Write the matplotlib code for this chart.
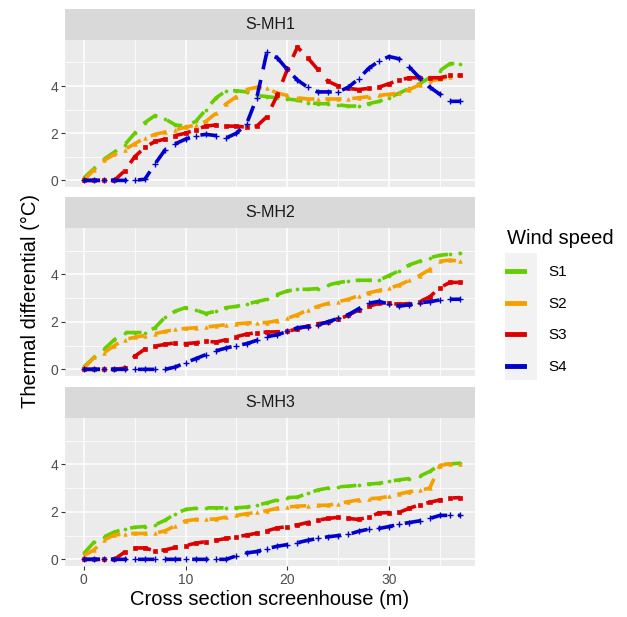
import matplotlib
matplotlib.use("Agg")
import matplotlib.pyplot as plt
from matplotlib.lines import Line2D
from matplotlib.patches import Rectangle
import numpy as np

plt.rcParams['font.family'] = ['Liberation Sans', 'DejaVu Sans']

# cross section position (m)
x = list(range(0, 38))

panels = ["S-MH1", "S-MH2", "S-MH3"]
series = ["S1", "S2", "S3", "S4"]

# S-MH1
mh1_s1 = [0.1, 0.5, 0.9, 1.2, 1.5, 2.0, 2.45, 2.75, 2.6, 2.35, 2.3, 2.5, 3.0, 3.5, 3.8, 3.8, 3.75, 3.6, 3.55,
          3.5, 3.45, 3.4, 3.3, 3.25, 3.25, 3.2, 3.15, 3.15, 3.25, 3.35, 3.5, 3.7, 3.9, 4.1, 4.35, 4.65, 4.95, 4.95]
mh1_s2 = [0.0, 0.45, 0.85, 1.1, 1.3, 1.55, 1.8, 1.95, 2.05, 2.15, 2.25, 2.35, 2.5, 2.85, 3.25, 3.55, 3.85, 3.95,
          3.9, 3.7, 3.6, 3.5, 3.45, 3.45, 3.45, 3.45, 3.45, 3.5, 3.55, 3.6, 3.65, 3.7, 3.85, 4.05, 4.2, 4.3, 4.4, 4.45]
mh1_s3 = [0.0, 0.0, 0.0, 0.0, 0.4, 1.0, 1.4, 1.65, 1.75, 1.9, 2.0, 2.15, 2.3, 2.35, 2.3, 2.3, 2.25, 2.3, 2.7,
          3.6, 4.7, 5.65, 5.2, 4.7, 4.2, 4.0, 3.9, 3.85, 3.9, 3.95, 4.1, 4.25, 4.35, 4.35, 4.35, 4.35, 4.45, 4.45]
mh1_s4 = [0.0, 0.0, 0.0, 0.0, 0.0, 0.0, 0.05, 0.7, 1.3, 1.55, 1.75, 1.9, 1.95, 1.9, 1.8, 2.0, 2.4, 3.5, 5.45,
          5.2, 4.7, 4.25, 3.95, 3.75, 3.75, 3.75, 3.95, 4.3, 4.75, 5.05, 5.25, 5.15, 4.8, 4.35, 3.95, 3.65, 3.35, 3.35]

# S-MH2
mh2_s1 = [0.1, 0.5, 0.85, 1.25, 1.55, 1.55, 1.55, 1.75, 2.2, 2.45, 2.6, 2.5, 2.35, 2.45, 2.6, 2.65, 2.75, 2.85,
          2.95, 3.15, 3.3, 3.37, 3.37, 3.4, 3.55, 3.65, 3.72, 3.75, 3.75, 3.75, 3.95, 4.15, 4.4, 4.55, 4.7, 4.8, 4.85, 4.88]
mh2_s2 = [0.05, 0.5, 0.7, 1.0, 1.25, 1.35, 1.42, 1.5, 1.6, 1.68, 1.72, 1.75, 1.78, 1.83, 1.88, 1.92, 1.95, 1.97,
          1.97, 2.05, 2.15, 2.3, 2.5, 2.65, 2.78, 2.85, 2.95, 3.1, 3.22, 3.32, 3.42, 3.55, 3.75, 3.95, 4.2, 4.55, 4.6, 4.55]
mh2_s3 = [0.0, 0.0, 0.0, 0.0, 0.05, 0.55, 0.85, 0.98, 1.05, 1.12, 1.08, 1.12, 1.18, 1.15, 1.25, 1.38, 1.48, 1.55,
          1.57, 1.58, 1.6, 1.7, 1.83, 1.92, 1.98, 2.1, 2.28, 2.5, 2.65, 2.78, 2.78, 2.74, 2.77, 2.85, 3.05, 3.44, 3.66, 3.66]
mh2_s4 = [0.0, 0.0, 0.0, 0.0, 0.0, 0.0, 0.0, 0.0, 0.0, 0.1, 0.28, 0.45, 0.62, 0.78, 0.9, 1.0, 1.08, 1.22, 1.38,
          1.45, 1.6, 1.75, 1.8, 1.87, 2.0, 2.15, 2.3, 2.55, 2.78, 2.86, 2.75, 2.66, 2.72, 2.8, 2.85, 2.92, 2.95, 2.95]

# S-MH3
mh3_s1 = [0.25, 0.72, 0.95, 1.15, 1.28, 1.35, 1.38, 1.45, 1.65, 1.92, 2.1, 2.15, 2.17, 2.17, 2.17, 2.17, 2.2, 2.28,
          2.38, 2.5, 2.6, 2.62, 2.78, 2.92, 3.0, 3.05, 3.08, 3.12, 3.17, 3.2, 3.28, 3.35, 3.4, 3.5, 3.7, 3.98, 4.02, 4.05]
mh3_s2 = [0.15, 0.4, 0.82, 1.02, 1.07, 1.09, 1.09, 1.1, 1.2, 1.42, 1.62, 1.68, 1.68, 1.7, 1.78, 1.85, 1.92, 1.98,
          2.05, 2.15, 2.2, 2.24, 2.26, 2.27, 2.28, 2.35, 2.43, 2.5, 2.55, 2.58, 2.65, 2.75, 2.85, 2.9, 3.0, 3.95, 4.02, 4.0]
mh3_s3 = [0.0, 0.0, 0.0, 0.0, 0.3, 0.48, 0.48, 0.35, 0.4, 0.5, 0.58, 0.68, 0.75, 0.8, 0.88, 0.95, 1.02, 1.1, 1.2,
          1.32, 1.38, 1.45, 1.55, 1.65, 1.72, 1.77, 1.72, 1.68, 1.78, 1.95, 1.97, 1.98, 2.15, 2.3, 2.4, 2.5, 2.58, 2.6]
mh3_s4 = [0.0, 0.0, 0.0, 0.0, 0.0, 0.0, 0.0, 0.0, 0.0, 0.0, 0.0, 0.0, 0.0, 0.0, 0.0, 0.15, 0.27, 0.33, 0.45, 0.55,
          0.62, 0.7, 0.8, 0.88, 0.95, 1.0, 1.05, 1.18, 1.27, 1.3, 1.38, 1.48, 1.55, 1.62, 1.72, 1.85, 1.85, 1.85]

data = [[mh1_s1, mh1_s2, mh1_s3, mh1_s4],
        [mh2_s1, mh2_s2, mh2_s3, mh2_s4],
        [mh3_s1, mh3_s2, mh3_s3, mh3_s4]]

colors = ['#66CD00', '#F5A000', '#DD0000', '#0000CD']
markers = ['o', '^', 's', '+']
msizes = [2.2, 2.6, 2.2, 4.5]

fig = plt.figure(figsize=(6.27, 6.17), dpi=100)
W, H = 627, 617
left, right = 65, 475
panel_px = [(40, 187), (228, 376), (418, 566)]
strip_h = 31

axes = []
for i, (top, bot) in enumerate(panel_px):
    ax = fig.add_axes([left / W, 1 - bot / H, (right - left) / W, (bot - top) / H])
    ax.set_facecolor('#EBEBEB')
    for s in ax.spines.values():
        s.set_visible(False)
    ax.set_xlim(-1.85, 38.45)
    ax.set_ylim(-0.28, 5.95)
    ax.set_xticks([0, 10, 20, 30])
    ax.set_xticks([5, 15, 25, 35], minor=True)
    ax.set_yticks([0, 2, 4])
    ax.set_yticks([1, 3, 5], minor=True)
    ax.grid(True, which='major', color='white', linewidth=1.1)
    ax.grid(True, which='minor', color='white', linewidth=0.55)
    ax.set_axisbelow(True)
    ax.tick_params(which='major', length=3, width=0.8, color='#333333', labelcolor='#4D4D4D',
                   labelsize=10, pad=2)
    ax.tick_params(which='minor', length=0)
    if i < 2:
        ax.tick_params(axis='x', which='major', length=0, labelbottom=False)
    for j in range(4):
        ax.plot(x, data[i][j], color=colors[j], linewidth=2.6, marker=markers[j],
                markersize=msizes[j], markeredgewidth=1.0 if j == 3 else 0.5,
                linestyle=(0, (4.5, 3.0)), zorder=3 + j)
    # facet strip
    sax = fig.add_axes([left / W, 1 - top / H, (right - left) / W, strip_h / H])
    sax.set_facecolor('#D9D9D9')
    sax.set_xticks([])
    sax.set_yticks([])
    for s in sax.spines.values():
        s.set_visible(False)
    sax.text(0.5, 0.5, panels[i], ha='center', va='center', fontsize=11.5, color='#1A1A1A',
             transform=sax.transAxes)
    axes.append(ax)

axes[-1].set_xlabel('Cross section screenhouse (m)', fontsize=14.5, color='black', labelpad=2)
fig.text(30 / W, 1 - 301 / H, 'Thermal differential (°C)', rotation=90, ha='center', va='center',
         fontsize=14.5)

# legend
handles = [Line2D([0], [0], color=c, linewidth=3.5) for c in colors]
fig.patches.append(Rectangle((505 / W, 1 - 380 / H), 32 / W, 127 / H, transform=fig.transFigure,
                             facecolor='#F2F2F2', edgecolor='none', zorder=0))
leg = fig.legend(handles, series, title='Wind speed', loc='upper left',
                 bbox_to_anchor=(493 / W, 1 - 215 / H), frameon=False, fontsize=11,
                 title_fontsize=14.5, handlelength=1.1, handletextpad=1.6, labelspacing=1.15)
leg._legend_box.align = 'left'

fig.savefig('out.png', dpi=100)
